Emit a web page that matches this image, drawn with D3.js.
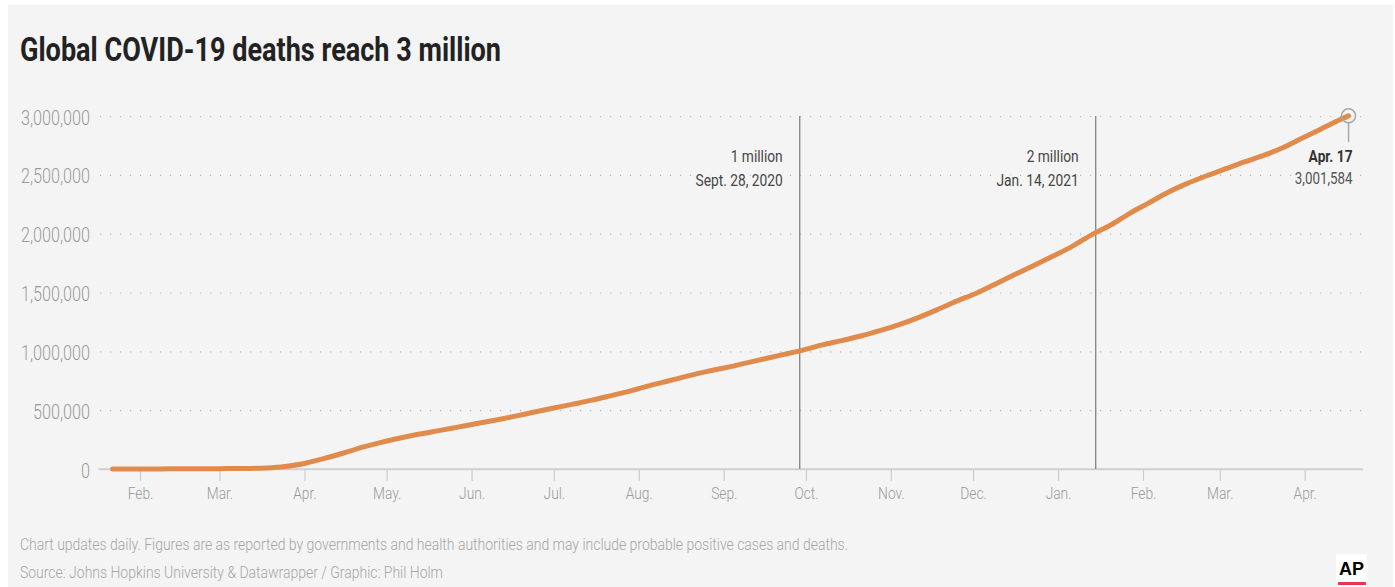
<!DOCTYPE html>
<html>
<head>
<meta charset="utf-8">
<script src="https://cdn.jsdelivr.net/npm/d3@7"></script>
<style>
  html, body { margin: 0; padding: 0; background: #ffffff; }
  svg { display: block; font-family: Roboto, "Noto Sans", sans-serif; }
</style>
</head>
<body>
<svg id="chart" width="1395" height="587"></svg>
<script>
// ---------------- DATA ----------------
const title = "Global COVID-19 deaths reach 3 million";
const footnote = "Chart updates daily. Figures are as reported by governments and health authorities and may include probable positive cases and deaths.";
const source = "Source: Johns Hopkins University & Datawrapper / Graphic: Phil Holm";

const dates = [
  "2020-01-22","2020-01-29","2020-02-05","2020-02-12","2020-02-19","2020-02-26",
  "2020-03-04","2020-03-11","2020-03-18","2020-03-25","2020-04-01","2020-04-08",
  "2020-04-15","2020-04-22","2020-04-29","2020-05-06","2020-05-13","2020-05-20",
  "2020-05-27","2020-06-03","2020-06-10","2020-06-17","2020-06-24","2020-07-01",
  "2020-07-08","2020-07-15","2020-07-22","2020-07-29","2020-08-05","2020-08-12",
  "2020-08-19","2020-08-26","2020-09-02","2020-09-09","2020-09-16","2020-09-23",
  "2020-09-28","2020-10-07","2020-10-14","2020-10-21","2020-10-28","2020-11-04",
  "2020-11-11","2020-11-18","2020-11-25","2020-12-02","2020-12-09","2020-12-16",
  "2020-12-23","2020-12-30","2021-01-06","2021-01-14","2021-01-20","2021-01-27",
  "2021-02-03","2021-02-10","2021-02-17","2021-02-24","2021-03-03","2021-03-10",
  "2021-03-17","2021-03-24","2021-03-31","2021-04-07","2021-04-14","2021-04-17"
];
const deaths = [
  17, 133, 565, 1118, 2122, 2770,
  3283, 4615, 9000, 21800, 47200, 88500,
  134000, 183000, 226000, 263000, 297000, 326000,
  356000, 386000, 417000, 449000, 484000, 518000,
  551000, 585000, 624000, 664000, 709000, 750000,
  791000, 830000, 863000, 900000, 937000, 974000,
  1000000, 1055000, 1091000, 1130000, 1176000, 1227000,
  1287000, 1355000, 1427000, 1492000, 1570000, 1650000,
  1728000, 1808000, 1890000, 2000000, 2070000, 2170000,
  2260000, 2350000, 2425000, 2490000, 2550000, 2610000,
  2665000, 2730000, 2810000, 2890000, 2970000, 3001584
];

const yTicks = [0, 500000, 1000000, 1500000, 2000000, 2500000, 3000000];
const xTickDates = ["2020-02-01","2020-03-01","2020-04-01","2020-05-01","2020-06-01","2020-07-01",
  "2020-08-01","2020-09-01","2020-10-01","2020-11-01","2020-12-01","2021-01-01",
  "2021-02-01","2021-03-01","2021-04-01"];
const xTickLabels = ["Feb.","Mar.","Apr.","May.","Jun.","Jul.","Aug.","Sep.","Oct.","Nov.","Dec.","Jan.","Feb.","Mar.","Apr."];

const milestoneDates = ["2020-09-28", "2021-01-14"];
const milestoneTitles = ["1 million", "2 million"];
const milestoneLabels = ["Sept. 28, 2020", "Jan. 14, 2021"];

const endLabelDate = "Apr. 17";
const endLabelValue = "3,001,584";

// ---------------- SETUP ----------------
const parse = d3.utcParse("%Y-%m-%d");
const data = dates.map((d, i) => ({ date: parse(d), value: deaths[i] }));

const BG = "#f4f4f4";
const ORANGE = "#e08b4c";
const SX = 0.81;

const svg = d3.select("#chart");
svg.append("rect").attr("x", 8).attr("y", 5).attr("width", 1385).attr("height", 582).attr("fill", BG);

const plotLeft = 100, plotRight = 1363, plotTop = 116, plotBottom = 469;

const x = d3.scaleUtc()
  .domain([parse("2020-02-01"), parse("2021-04-01")])
  .range([140, 1304.7]);
const y = d3.scaleLinear().domain([0, 3000000]).range([plotBottom, plotTop]);

function ctext(g, str, tx, ty, o) {
  const t = g.append("text")
    .attr("transform", `translate(${tx},${ty}) scale(${o.sx || SX},1)`)
    .attr("text-anchor", o.anchor || "start")
    .attr("font-size", o.size || 16)
    .attr("font-weight", o.weight || 400)
    .attr("fill", o.fill || "#333")
    .text(str);
  if (o.halo) {
    t.attr("stroke", BG).attr("stroke-width", 5).attr("stroke-linejoin", "round").attr("paint-order", "stroke");
  }
  return t;
}

// Title
svg.append("text")
  .attr("x", 20).attr("y", 61)
  .attr("font-size", 34).attr("font-weight", 700)
  .attr("fill", "#222")
  .attr("textLength", 481).attr("lengthAdjust", "spacingAndGlyphs")
  .text(title);

// Y axis with dotted gridlines
const yAxis = svg.append("g")
  .attr("transform", `translate(${plotLeft},0)`)
  .call(d3.axisLeft(y).tickValues(yTicks).tickSize(-(plotRight - plotLeft)).tickFormat(d3.format(",")));
yAxis.select(".domain").remove();
yAxis.selectAll(".tick line")
  .attr("stroke", d => d === 0 ? "#cfcfcf" : "#b5b5b5")
  .attr("stroke-width", d => d === 0 ? 1.5 : 1.2)
  .attr("stroke-dasharray", d => d === 0 ? null : "1.2,8.8");
yAxis.selectAll(".tick text")
  .attr("x", 0).attr("dy", null).attr("y", 0)
  .attr("transform", "translate(-10,8) scale(" + SX + ",1)")
  .attr("font-size", 20).attr("font-weight", 300)
  .attr("font-family", "Roboto, sans-serif")
  .attr("fill", "#9a9a9a");

// X axis
const xAxis = svg.append("g")
  .attr("transform", `translate(0,${plotBottom})`)
  .call(d3.axisBottom(x).tickValues(xTickDates.map(parse)).tickSize(12)
    .tickFormat((d, i) => xTickLabels[i]));
xAxis.select(".domain").remove();
xAxis.selectAll(".tick line").attr("stroke", "#cccccc").attr("stroke-width", 1.2);
xAxis.selectAll(".tick text")
  .attr("y", 0).attr("dy", null)
  .attr("transform", "translate(0,30) scale(" + SX + ",1)")
  .attr("font-size", 17).attr("font-weight", 300)
  .attr("font-family", "Roboto, sans-serif")
  .attr("fill", "#9a9a9a");

// Zero baseline across full width
svg.append("line")
  .attr("x1", 98).attr("x2", plotRight)
  .attr("y1", y(0)).attr("y2", y(0))
  .attr("stroke", "#d0d0d0").attr("stroke-width", 1.5);

// Milestone lines and labels
const ann = svg.append("g");
milestoneDates.forEach((d, i) => {
  const mx = x(parse(d)) + 2;
  ann.append("line")
    .attr("x1", mx).attr("x2", mx).attr("y1", plotTop).attr("y2", plotBottom)
    .attr("stroke", "#8a8a8a").attr("stroke-width", 1.4);
  ctext(ann, milestoneTitles[i], mx - 17, 162, { anchor: "end", size: 17, fill: "#444", halo: true });
  ctext(ann, milestoneLabels[i], mx - 17, 186, { anchor: "end", size: 17, fill: "#444", halo: true });
});

// Line
const line = d3.line().x(d => x(d.date)).y(d => y(d.value)).curve(d3.curveMonotoneX);
svg.append("path")
  .datum(data)
  .attr("d", line)
  .attr("fill", "none")
  .attr("stroke", ORANGE)
  .attr("stroke-width", 5)
  .attr("stroke-linecap", "round")
  .attr("stroke-linejoin", "round");

// End marker
const last = data[data.length - 1];
const ex = x(last.date), ey = y(last.value);
svg.append("circle").attr("cx", ex).attr("cy", ey).attr("r", 7)
  .attr("fill", "none").attr("stroke", "#a8a8a8").attr("stroke-width", 1.5);
svg.append("line").attr("x1", ex).attr("x2", ex).attr("y1", ey + 7).attr("y2", ey + 26)
  .attr("stroke", "#a8a8a8").attr("stroke-width", 1.5);
ctext(svg, endLabelDate, ex + 4, 162, { anchor: "end", size: 17, weight: 700, fill: "#333", halo: true });
ctext(svg, endLabelValue, ex + 4, 184, { anchor: "end", size: 16.5, fill: "#555", halo: true });

// Footer
svg.append("text")
  .attr("x", 20).attr("y", 550)
  .attr("font-size", 16).attr("font-weight", 300).attr("fill", "#a5a5a5")
  .attr("textLength", 828).attr("lengthAdjust", "spacingAndGlyphs")
  .text(footnote);
svg.append("text")
  .attr("x", 20).attr("y", 578)
  .attr("font-size", 16).attr("font-weight", 300).attr("fill", "#a5a5a5")
  .attr("textLength", 423).attr("lengthAdjust", "spacingAndGlyphs")
  .text(source);

// AP logo
const logo = svg.append("g");
logo.append("rect").attr("x", 1336).attr("y", 554).attr("width", 31).attr("height", 33).attr("fill", "#ffffff");
logo.append("text").attr("x", 1351.5).attr("y", 575).attr("text-anchor", "middle")
  .attr("font-family", "'Liberation Sans', Arial, sans-serif")
  .attr("font-size", 19).attr("font-weight", 700).attr("fill", "#000")
  .attr("textLength", 25).attr("lengthAdjust", "spacingAndGlyphs")
  .text("AP");
logo.append("rect").attr("x", 1338).attr("y", 582).attr("width", 28).attr("height", 3).attr("fill", "#e8374b");
</script>
</body>
</html>
